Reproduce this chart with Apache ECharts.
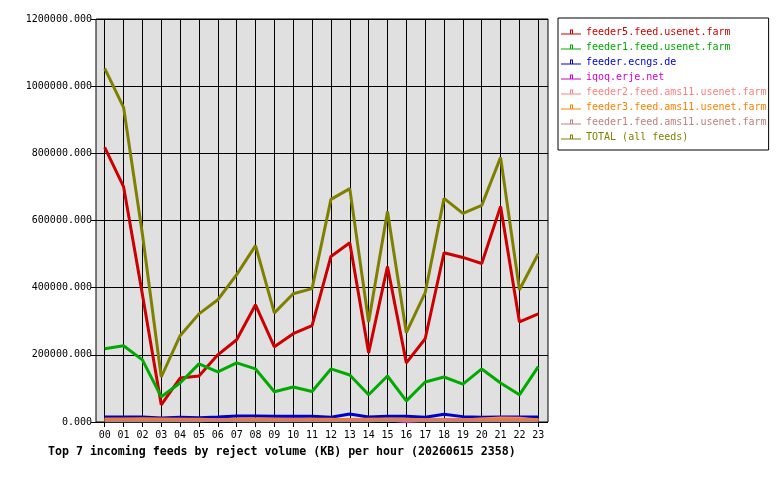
<!DOCTYPE html>
<html>
<head>
    <meta charset="utf-8">
    <title>reject volume per hour</title>
    <script src="https://cdn.jsdelivr.net/npm/echarts@6/dist/echarts.min.js"></script>
    <style>
        body{margin:0;background:#fff}
        #main{width:780px;height:480px}
    </style>
</head>
<body>
<div id="main"></div>
<script type="text/javascript">
    // hours on the x axis
    var hours = ['00','01','02','03','04','05','06','07','08','09','10','11',
                 '12','13','14','15','16','17','18','19','20','21','22','23'];
    var feedNames = ['feeder5.feed.usenet.farm','feeder1.feed.usenet.farm','feeder.ecngs.de','iqoq.erje.net',
                     'feeder2.feed.ams11.usenet.farm','feeder3.feed.ams11.usenet.farm','feeder1.feed.ams11.usenet.farm',
                     'TOTAL (all feeds)'];
    var feedColors = ['#cc0000','#00aa00','#0000cc','#cc00cc','#ff8080','#ff8000','#c08080','#808000'];

    var feeder5Usenet = [818000,701000,380000,51000,131000,137000,200000,245000,349000,224000,263000,287000,
                         493000,534000,206000,463000,176000,248000,504000,490000,472000,642000,298000,322000];
    var feeder1Usenet = [218000,227000,185000,75000,116000,173000,149000,176000,158000,90000,104000,91000,
                         158000,140000,81000,137000,63000,119000,134000,113000,158000,116000,81000,165000];
    var ecngs = [15000,15000,15000,12000,14000,13000,15000,18000,18000,17000,17000,17000,
                 14000,24000,15000,17000,17000,14000,23000,16000,14000,15000,15000,15000];
    var iqoq = [7000,7000,6000,6000,8000,7000,7000,6000,7000,8000,8000,7000,
                6000,7000,8000,7000,1000,6000,7000,6000,7000,6000,7000,6000];
    var feeder2Ams = [6000,6000,6000,5000,6000,6000,6000,6000,6000,5000,6000,6000,
                      6000,6000,6000,6000,6000,6000,6000,6000,9000,12000,11000,6000];
    var feeder3Ams = [9000,9000,10000,9000,8000,8000,7000,8000,9000,8000,7000,8000,
                      8000,7000,8000,9000,8000,7000,6000,7000,8000,9000,8000,7000];
    var feeder1Ams = [4000,4000,4000,4000,4000,4000,5000,4000,4000,4000,4000,4000,
                      4000,4000,4000,5000,4000,4000,4000,4000,4000,4000,4000,4000];
    var totalAll = [1053000,937000,560000,134000,257000,322000,364000,439000,525000,325000,382000,397000,
                    663000,695000,298000,627000,266000,385000,666000,621000,645000,788000,394000,501000];

    var allSeries = [feeder5Usenet,feeder1Usenet,ecngs,iqoq,feeder2Ams,feeder3Ams,feeder1Ams,totalAll];

    var mono = 'DejaVu Sans Mono';
    // line with a small hollow box sitting on it
    var legendIcon = 'path://M0,4 H9 V0 H12 V4 H20 V5 H0 Z M10,1 V4 H11 V1 Z';

    var chart = echarts.init(document.getElementById('main'));

    var option = {
        animation: false,
        backgroundColor: '#ffffff',
        textStyle: {fontFamily: mono},
        title: {
            text: 'Top 7 incoming feeds by reject volume (KB) per hour (20260615 2358)',
            left: 48,
            top: 446,
            padding: 0,
            textStyle: {fontFamily: mono, fontSize: 11.6, fontWeight: 'bold', color: '#000'}
        },
        legend: {
            orient: 'vertical',
            left: 558,
            top: 18,
            padding: [9, 2, 8, 3],
            itemGap: 5,
            itemWidth: 20,
            itemHeight: 5,
            icon: legendIcon,
            backgroundColor: '#ffffff',
            borderColor: '#000',
            borderWidth: 1,
            textStyle: {fontFamily: mono, fontSize: 10, lineHeight: 10},
            data: feedNames.map(function (n, i) {
                return {name: n, textStyle: {color: feedColors[i]}};
            })
        },
        grid: [
            {left: 96, top: 19, width: 452, height: 403, show: true,
             backgroundColor: '#e0e0e0', borderColor: '#000', borderWidth: 1},
            {left: 104.7, top: 19, width: 433.6, height: 403}
        ],
        xAxis: [
            {gridIndex: 0, type: 'value', min: 0, max: 1, show: false},
            {
                gridIndex: 1,
                type: 'category',
                boundaryGap: false,
                data: hours,
                axisLine: {show: false},
                axisTick: {show: true, length: 5, lineStyle: {color: '#000'}},
                axisLabel: {color: '#000', fontFamily: mono, fontSize: 10, margin: 8, interval: 0},
                splitLine: {show: true, lineStyle: {color: '#000', width: 1}}
            }
        ],
        yAxis: [
            {
                gridIndex: 0,
                type: 'value',
                min: 0,
                max: 1200000,
                interval: 200000,
                axisLine: {show: false},
                axisTick: {show: true, length: 5, lineStyle: {color: '#000'}},
                axisLabel: {
                    color: '#000', fontFamily: mono, fontSize: 10, margin: 4,
                    formatter: function (v) { return v.toFixed(3); }
                },
                splitLine: {show: true, lineStyle: {color: '#000', width: 1}}
            },
            {gridIndex: 1, type: 'value', min: 0, max: 1200000, show: false}
        ],
        series: allSeries.map(function (d, i) {
            return {
                name: feedNames[i],
                type: 'line',
                xAxisIndex: 1,
                yAxisIndex: 1,
                data: d,
                showSymbol: false,
                symbol: 'none',
                color: feedColors[i],
                lineStyle: {width: 3, color: feedColors[i]}
            };
        })
    };
    chart.setOption(option);
</script>
</body>
</html>
